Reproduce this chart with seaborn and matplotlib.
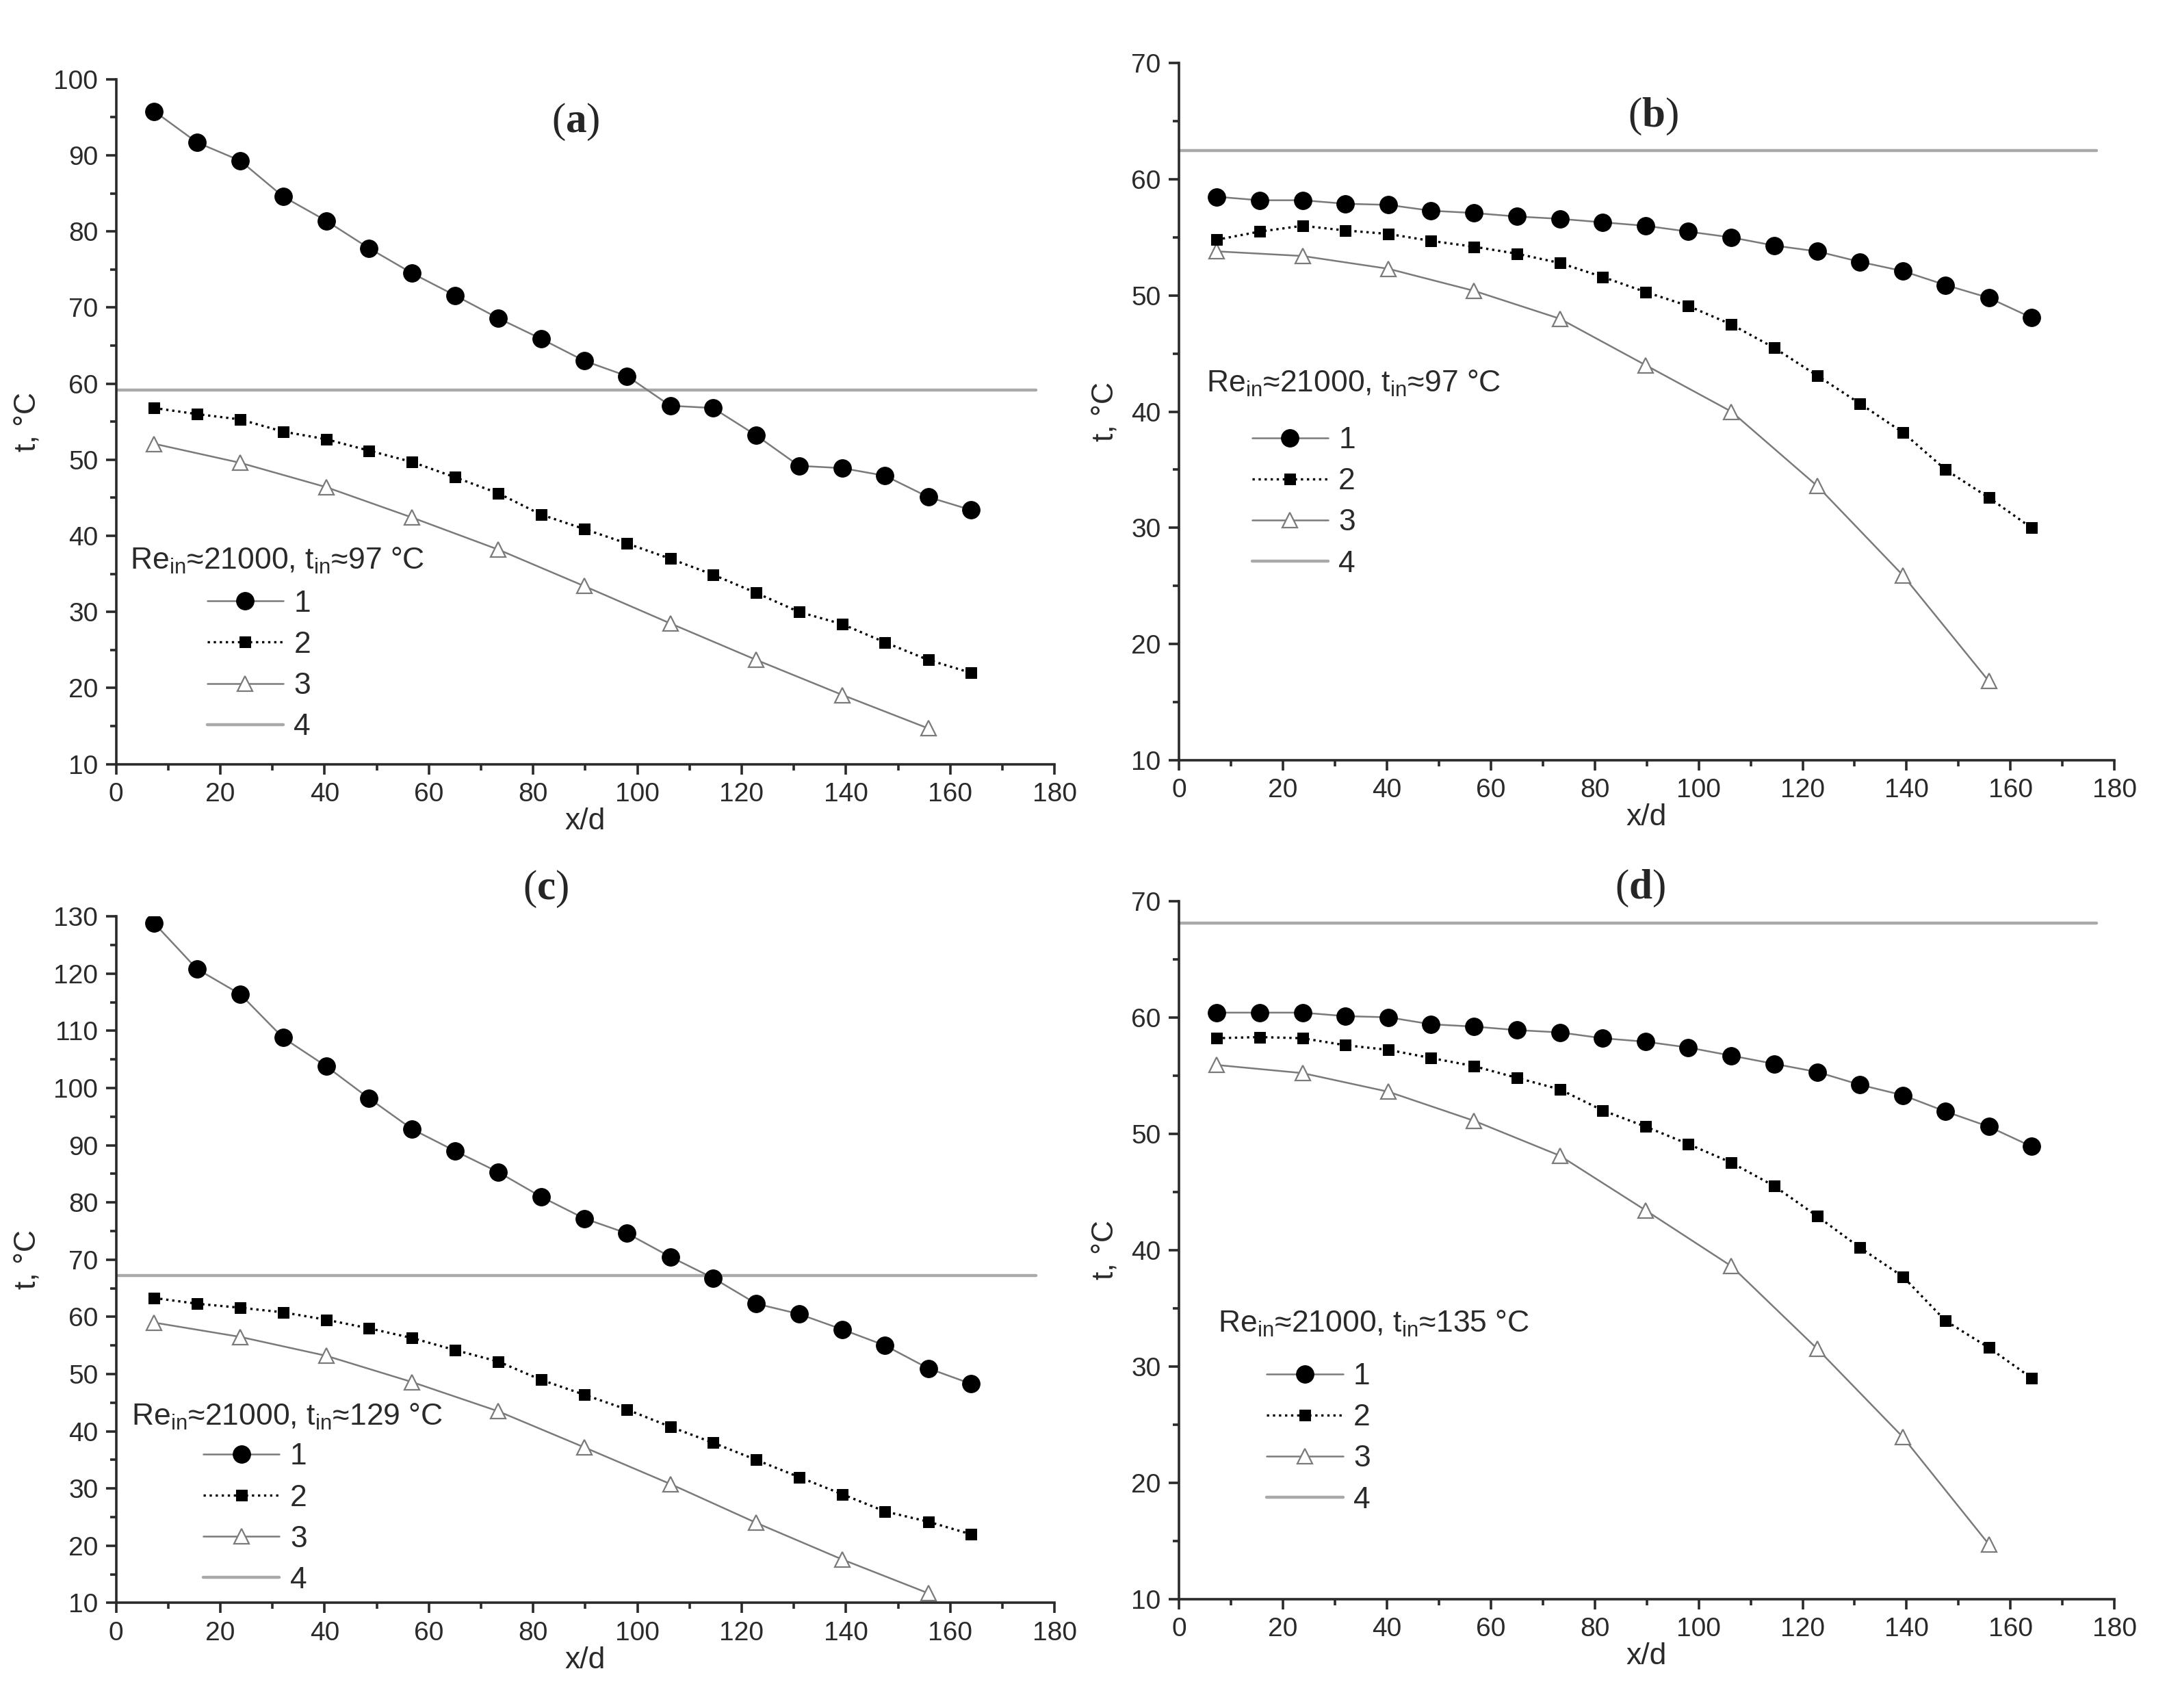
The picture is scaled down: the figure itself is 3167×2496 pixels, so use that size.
import numpy as np
import matplotlib
matplotlib.use("Agg")
import matplotlib.pyplot as plt
from matplotlib.ticker import MultipleLocator, AutoMinorLocator
import seaborn as sns

# x/d positions of the thermocouples
x_full = [7.3, 15.5, 23.8, 32.0, 40.3, 48.5, 56.8, 65.0, 73.3, 81.5,
          89.8, 98.0, 106.3, 114.5, 122.8, 131.0, 139.3, 147.5, 155.8, 164.0]
x_half = [7.3, 23.8, 40.3, 56.8, 73.3, 89.8, 106.3, 122.8, 139.3, 155.8]
line4_x = [0, 176.5]

# panel (a)
a_s1 = [95.8, 91.7, 89.3, 84.6, 81.4, 77.8, 74.5, 71.6, 68.6, 65.9,
        63.0, 61.0, 57.1, 56.8, 53.2, 49.2, 48.9, 47.9, 45.1, 43.4]
a_s2 = [56.8, 56.0, 55.3, 53.7, 52.7, 51.2, 49.7, 47.7, 45.6, 42.8,
        40.9, 39.0, 37.0, 34.9, 32.5, 30.0, 28.4, 26.0, 23.7, 22.0]
a_s3 = [52.1, 49.6, 46.4, 42.4, 38.2, 33.4, 28.5, 23.7, 19.1, 14.7]
a_s4 = 59.2

# panel (b)
b_s1 = [58.5, 58.2, 58.2, 57.9, 57.8, 57.3, 57.1, 56.8, 56.6, 56.3,
        56.0, 55.5, 55.0, 54.3, 53.8, 52.9, 52.1, 50.9, 49.8, 48.1]
b_s2 = [54.8, 55.5, 56.0, 55.6, 55.3, 54.7, 54.2, 53.6, 52.8, 51.6,
        50.3, 49.1, 47.5, 45.5, 43.1, 40.7, 38.2, 35.0, 32.6, 30.0]
b_s3 = [53.8, 53.4, 52.3, 50.4, 48.0, 44.0, 40.0, 33.6, 25.9, 16.8]
b_s4 = 62.5

# panel (c)
c_s1 = [128.8, 120.8, 116.4, 108.8, 103.8, 98.2, 92.8, 89.0, 85.3, 81.0,
        77.2, 74.6, 70.5, 66.8, 62.3, 60.5, 57.8, 55.0, 51.0, 48.3]
c_s2 = [63.3, 62.3, 61.6, 60.8, 59.5, 58.0, 56.3, 54.2, 52.2, 49.0,
        46.4, 43.8, 40.8, 38.0, 35.0, 32.0, 29.0, 26.0, 24.2, 22.0]
c_s3 = [59.0, 56.5, 53.2, 48.6, 43.5, 37.2, 30.8, 24.0, 17.6, 11.7]
c_s4 = 67.2

# panel (d)
d_s1 = [60.4, 60.4, 60.4, 60.1, 60.0, 59.4, 59.2, 58.9, 58.7, 58.2,
        57.9, 57.4, 56.7, 56.0, 55.3, 54.2, 53.3, 51.9, 50.6, 48.9]
d_s2 = [58.2, 58.3, 58.2, 57.6, 57.2, 56.5, 55.8, 54.8, 53.8, 52.0,
        50.6, 49.1, 47.5, 45.5, 42.9, 40.2, 37.7, 33.9, 31.6, 29.0]
d_s3 = [55.9, 55.2, 53.6, 51.1, 48.1, 43.4, 38.6, 31.5, 23.9, 14.7]
d_s4 = 68.1

panel_tags = ["a", "b", "c", "d"]
inlet_temps = [97, 97, 129, 135]
y_tops = [100, 70, 130, 70]
legend_labels = ["1", "2", "3", "4"]

sns.set_style("ticks")
plt.rcParams['font.family'] = ['Liberation Sans', 'DejaVu Sans']
plt.rcParams['mathtext.fontset'] = 'custom'
plt.rcParams['mathtext.rm'] = 'Liberation Sans'
plt.rcParams['mathtext.bf'] = 'Liberation Serif:bold'

TICK_FS = 28
LEG_FS = 32
LAB_FS = 32
GRAY = "#7a7a7a"
LGRAY = "#a9a9a9"
DARK = "#2a2a2a"

fig = plt.figure(figsize=(31.67, 24.96), dpi=100)
rects = [[0.0536, 0.5526, 0.433, 0.401],
         [0.544, 0.555, 0.4318, 0.408],
         [0.0536, 0.0615, 0.433, 0.402],
         [0.544, 0.0639, 0.4318, 0.4086]]
title_pos = [(0.49, 0.937), (0.507, 0.923), (0.458, 1.04), (0.493, 1.018)]
leg_title_pos = [(0.015, 0.297), (0.029, 0.54), (0.016, 0.271), (0.042, 0.394)]
leg_pos = [(0.097, 0.144), (0.078, 0.37), (0.093, 0.123), (0.094, 0.23)]

data = [(a_s1, a_s2, a_s3, a_s4), (b_s1, b_s2, b_s3, b_s4),
        (c_s1, c_s2, c_s3, c_s4), (d_s1, d_s2, d_s3, d_s4)]

for i in range(4):
    ax = fig.add_axes(rects[i])
    s1, s2, s3, s4 = data[i]
    sns.lineplot(x=line4_x, y=[s4, s4], ax=ax, color=LGRAY, linewidth=3.2,
                 label=legend_labels[3])
    sns.lineplot(x=x_half, y=s3, ax=ax, color=GRAY, linewidth=1.8, marker="^",
                 markersize=16, markerfacecolor="white", markeredgecolor=GRAY,
                 markeredgewidth=1.6, label=legend_labels[2])
    sns.lineplot(x=x_full, y=s2, ax=ax, color="black", linewidth=2.4, linestyle=":",
                 marker="s", markersize=11.5, markerfacecolor="black",
                 markeredgecolor="black", label=legend_labels[1])
    sns.lineplot(x=x_full, y=s1, ax=ax, color=GRAY, linewidth=1.8, marker="o",
                 markersize=18.5, markerfacecolor="black", markeredgecolor="black",
                 label=legend_labels[0])

    ax.set_xlim(0, 180)
    ax.set_ylim(10, y_tops[i])
    ax.xaxis.set_major_locator(MultipleLocator(20))
    ax.yaxis.set_major_locator(MultipleLocator(10))
    ax.xaxis.set_minor_locator(AutoMinorLocator(2))
    ax.yaxis.set_minor_locator(AutoMinorLocator(2))
    ax.tick_params(which="major", length=11, width=2.6, labelsize=TICK_FS, pad=8,
                   direction="out", color=DARK, labelcolor=DARK)
    ax.tick_params(which="minor", length=6.5, width=2.6, direction="out", color=DARK)
    sns.despine(ax=ax)
    for sp in ["left", "bottom"]:
        ax.spines[sp].set_linewidth(2.6)
        ax.spines[sp].set_color(DARK)
    ax.set_xlabel("x/d", fontsize=LAB_FS, labelpad=1, color=DARK)
    ax.set_ylabel("t, \u00b0C", fontsize=LAB_FS, labelpad=12, color=DARK)

    ax.text(title_pos[i][0], title_pos[i][1], r"($\mathbf{%s}$)" % panel_tags[i],
            transform=ax.transAxes, ha="center", va="center", fontsize=44,
            family="Liberation Serif")

    ax.text(leg_title_pos[i][0], leg_title_pos[i][1],
            r"Re$_{\rm in}$≈21000, t$_{\rm in}$≈%d °C" % inlet_temps[i],
            transform=ax.transAxes, ha="left", va="center", fontsize=LEG_FS,
            color=DARK)

    handles, labels = ax.get_legend_handles_labels()
    order = [labels.index(l) for l in legend_labels]
    leg = ax.legend([handles[k] for k in order], [labels[k] for k in order],
                    loc="center left", bbox_to_anchor=leg_pos[i], frameon=False,
                    fontsize=LEG_FS, borderpad=0, borderaxespad=0, handlelength=2.5,
                    handletextpad=0.35, labelspacing=0.43)
    for t in leg.get_texts():
        t.set_color(DARK)

fig.savefig("out.png", dpi=100)
